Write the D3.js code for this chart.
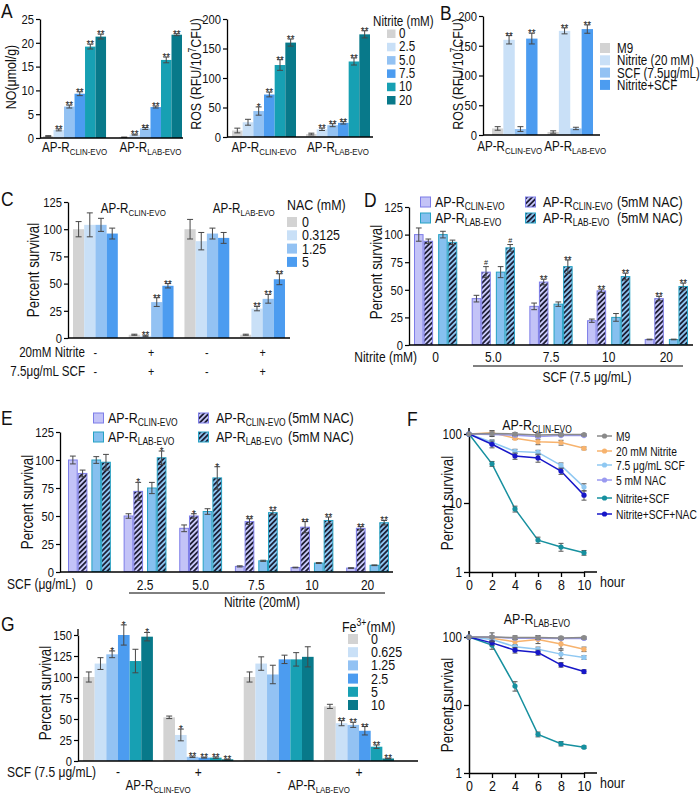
<!DOCTYPE html>
<html><head><meta charset="utf-8">
<script src="https://cdn.jsdelivr.net/npm/d3@7"></script>
<style>body{margin:0;background:#fff} svg{display:block}</style>
</head><body>
<script>
// ================= DATA =================
// Panel A
const nitriteLevels = ["0","2.5","5.0","7.5","10","20"];
const strainSubs = ["CLIN-EVO","LAB-EVO"];
const noClin = [0.4,1.7,6.6,9.3,19.2,21.3];
const noClinErr = [0.1,0.2,0.3,0.4,0.5,0.5];
const noLab = [0.15,0.7,2.0,6.5,16.4,21.7];
const noLabErr = [0.05,0.1,0.2,0.2,0.6,0.2];
const noClinSig = ["","**","**","**","**","**"];
const noLabSig = ["","**","**","**","**","**"];
const rosClin = [11,25,44,72,122,160];
const rosClinErr = [4,5,7,4,9,6];
const rosLab = [5,13,20,24,128,174];
const rosLabErr = [1.5,2,2.5,2,6,6];
const rosClinSig = ["","","*","**","**","**"];
const rosLabSig = ["","**","**","**","**","**"];
// Panel B
const bTreatments = ["M9","Nitrite (20 mM)","SCF (7.5μg/mL)","Nitrite+SCF"];
const bClin = [11,160,10,162];
const bClinErr = [3,7,4,9];
const bLab = [5,175,11,178];
const bLabErr = [2,5,2,7];
const bSig = ["","**","","**"];
// Panel C
const nacLevels = ["0","0.3125","1.25","5"];
const cClinNeg = [100,104,104,96];
const cClinNegErr = [7,11,6,5];
const cClinPos = [3,2,33,48];
const cClinPosErr = [0.5,0.5,4,2];
const cLabNeg = [100,89,96,92];
const cLabNegErr = [9,8,5,5];
const cLabPos = [3,27,36,54];
const cLabPosErr = [0.5,2,4,5];
const cPosSig = ["","**","**","**"];
const cNitriteSigns = ["-","+","-","+"];
const cScfSigns = ["-","+","-","+"];
// Panel D
const dNitrite = ["0","5.0","7.5","10","20"];
const dClin = [100,42,35,22,5];
const dClinErr = [6,3,3,1.5,0.3];
const dClinNac = [94,66,57,49,42];
const dClinNacErr = [2,5,2.5,1.5,2];
const dLab = [100,66,37,25,5];
const dLabErr = [3,5,2,3.5,0.3];
const dLabNac = [93,88,71,62,53];
const dLabNacErr = [2,3,6,3,3];
const dNacSig = ["","#","**","**","**"];
// Panel E
const eScf = ["0","2.5","5.0","7.5","10","20"];
const eClin = [100,50,39,5,4,3.5];
const eClinErr = [3.5,2,3,0.5,0.3,0.3];
const eClinNac = [88,72,50,45,40,39];
const eClinNacErr = [3,8,2,2.5,5,1.5];
const eLab = [100,75,54,10,8,6];
const eLabErr = [3,5,2.5,0.5,0.4,0.3];
const eLabNac = [98,102,84,53,46,44];
const eLabNacErr = [7,6,10,2,3,2];
const eNacSig = ["","*","*","**","**","**"];
// Panel F
const hours = [0,2,4,6,8,10];
const fSeries = ["M9","20 mM Nitrite","7.5 μg/mL SCF","5 mM NAC","Nitrite+SCF","Nitrite+SCF+NAC"];
const fClinVals = [
  [100,102,100,97,98,98],
  [100,104,87,77,75,62],
  [100,76,56,54,35,17],
  [100,98,96,92,95,95],
  [100,37,8.2,2.9,2.3,1.9],
  [100,71,48,45,29,13]
];
const fClinErrs = [
  [0,10,5,4,3,3],
  [0,6,4,7,6,3],
  [0,6,4,4,3,2],
  [0,4,3,3,2,3],
  [0,3,0.8,0.3,0.3,0.15],
  [0,8,5,6,3,2]
];
const fLabVals = [
  [100,100,98,98,97,98],
  [100,96,85,92,79,66],
  [100,92,72,66,56,50],
  [100,100,96,96,95,95],
  [100,76,19,3.7,2.7,2.4],
  [100,82,64,59,39,31]
];
const fLabErrs = [
  [0,15,6,6,5,4],
  [0,8,10,12,12,5],
  [0,6,5,5,8,3],
  [0,3,3,3,3,3],
  [0,10,3,0.3,0.2,0.1],
  [0,6,6,5,3,2]
];
// Panel G
const feLevels = ["0","0.625","1.25","2.5","5","10"];
const gClinNeg = [100,116,127,150,119,148];
const gClinNegErr = [6,7,4,12,14,5];
const gClinNegSig = ["","","*","*","","*"];
const gClinPos = [52,31,5,4,4,2];
const gClinPosErr = [1.5,7,0.8,0.5,0.8,0.3];
const gClinPosSig = ["","*","**","**","**","**"];
const gLabNeg = [100,116,103,121,121,124];
const gLabNegErr = [6,8,11,5,8,12];
const gLabPos = [65,45,43,36,17,3];
const gLabPosErr = [2.5,3,3,5,2,0.3];
const gLabPosSig = ["","**","**","**","**","**"];
const gSigns = ["-","+","-","+"];

// ================= STYLE =================
const FONT = "'Liberation Sans',Arial,sans-serif";
const S = 0.83; // horizontal condensation to mimic a narrow face
const pal6 = ["#d3d3d3","#c9e0f7","#93c2f3","#4c9cf0","#17a0b3","#08798a"];
const cLav = "#c3c3f7", cLavS = "#7d7de8", cLab = "#86c0ef", cLabS = "#26a2c4";
const fColors = ["#8a8a8a","#f7b36e","#8fc8f2","#9a9af0","#16909f","#1717c8"];

const svg = d3.select("body").append("svg").attr("width",700).attr("height",794)
  .style("font-family",FONT).attr("font-size",13).attr("fill","#111");
const defs = svg.append("defs");
function hatch(id,bg){
  const p = defs.append("pattern").attr("id",id).attr("patternUnits","userSpaceOnUse")
    .attr("width",3.6).attr("height",3.6).attr("patternTransform","rotate(45)");
  p.append("rect").attr("width",3.6).attr("height",3.6).attr("fill",bg);
  p.append("line").attr("x1",0.9).attr("y1",-1).attr("x2",0.9).attr("y2",5).attr("stroke","#16162c").attr("stroke-width",1.7);
}
hatch("hC","#c8c8f8"); hatch("hL","#8cc3ee");

function txt(x,y,s,anchor,size,sc=S){
  const t = svg.append("text").attr("transform",`translate(${x},${y}) scale(${sc},1)`).text(s);
  if(anchor) t.attr("text-anchor",anchor);
  if(size) t.attr("font-size",size);
  return t;
}
function apr(x,y,sub,anchor="middle",size=14){
  const t = svg.append("text").attr("transform",`translate(${x},${y}) scale(${S},1)`).attr("text-anchor",anchor).attr("font-size",size);
  t.append("tspan").text("AP-R");
  t.append("tspan").attr("font-size",size*0.68).attr("dy",3).text(sub);
  return t;
}
function ylab(x,y,s,size=14){
  return svg.append("text").attr("transform",`translate(${x},${y}) rotate(-90) scale(${S},1)`)
    .attr("text-anchor","middle").attr("dy","0.35em").attr("font-size",size).text(s);
}
function letter(x,y,s){ txt(x,y,s,null,21); }
function condenseTicks(g){
  g.selectAll(".tick text").each(function(){
    const t = d3.select(this); const x = +t.attr("x") || 0;
    t.attr("x", x/S).attr("transform",`scale(${S},1)`).attr("fill","#111");
  });
}

function yAxis(scale,x,ticks,ext=0){
  const g = svg.append("g").attr("transform",`translate(${x},0)`)
    .call(d3.axisLeft(scale).tickValues(ticks).tickSize(4).tickPadding(2).tickSizeOuter(0).tickFormat(d3.format("d")));
  g.attr("font-family",FONT).attr("font-size",13.5);
  g.select(".domain").attr("stroke","#000").attr("stroke-width",1.3);
  g.selectAll(".tick line").attr("stroke","#000").attr("stroke-width",1.2);
  condenseTicks(g);
  if(ext){ const r = scale.range(); g.append("line").attr("x1",0).attr("x2",0).attr("y1",r[1]).attr("y2",r[1]-ext).attr("stroke","#000").attr("stroke-width",1.3); }
  return g;
}
function xLine(x1,x2,y,w=1.3){
  svg.append("line").attr("x1",x1).attr("x2",x2).attr("y1",y).attr("y2",y).attr("stroke","#000").attr("stroke-width",w);
}

function bars(o){
  const gx = d3.scaleBand().domain(d3.range(o.nG)).range(o.range).paddingInner(o.padG).paddingOuter(0);
  let pos;
  if(o.pairPad != null){
    const px = d3.scaleBand().domain([0,1]).range([0,gx.bandwidth()]).paddingInner(o.pairPad);
    const sx = d3.scaleBand().domain([0,1]).range([0,px.bandwidth()]);
    pos = (g,s)=>[gx(g)+px(Math.floor(s/2))+sx(s%2), sx.bandwidth()];
  } else {
    const sx = d3.scaleBand().domain(d3.range(o.nS)).range([0,gx.bandwidth()]);
    pos = (g,s)=>[gx(g)+sx(s), sx.bandwidth()];
  }
  const items = [];
  for(let g=0; g<o.nG; g++) for(let s=0; s<o.nS; s++)
    items.push({g,s,v:o.val(g,s),e:o.err(g,s),sig:o.sig?o.sig(g,s):""});
  const y = o.y, layer = svg.append("g");
  const sw = o.stroke ? 1 : 0;
  layer.selectAll("rect").data(items).join("rect")
    .attr("x",d=>pos(d.g,d.s)[0]+sw/2).attr("width",d=>pos(d.g,d.s)[1]-sw)
    .attr("y",d=>y(d.v)).attr("height",d=>Math.max(0,y(0)-y(d.v)-sw/2))
    .attr("fill",d=>o.fill(d.s)).attr("stroke",d=>o.stroke?o.stroke(d.s):"none").attr("stroke-width",sw);
  const eb = layer.append("g").attr("stroke","#474747").attr("stroke-width",1);
  items.forEach(d=>{
    const [bx,bw] = pos(d.g,d.s), cx = bx+bw/2, cw = Math.min(3, bw*0.3);
    const y1 = y(Math.max(0,d.v-d.e)), y2 = y(d.v+d.e);
    eb.append("line").attr("x1",cx).attr("x2",cx).attr("y1",y1).attr("y2",y2);
    eb.append("line").attr("x1",cx-cw).attr("x2",cx+cw).attr("y1",y2).attr("y2",y2);
    eb.append("line").attr("x1",cx-cw).attr("x2",cx+cw).attr("y1",y1).attr("y2",y1);
    if(d.sig){
      const isHash = d.sig.indexOf("#")>=0;
      layer.append("text").attr("transform",`translate(${cx},${isHash ? y2-1.5 : y2+4}) scale(0.9,1)`)
        .attr("text-anchor","middle").attr("font-size",isHash?8:11).attr("fill","#222").text(d.sig);
    }
  });
  const center = g => gx(g)+gx.bandwidth()/2;
  return {gx, center};
}

// ================= PANEL A (NO) =================
letter(1,18,"A");
{
  const y = d3.scaleLinear().domain([0,25]).range([138,19]);
  const vals=[noClin,noLab], errs=[noClinErr,noLabErr], sigs=[noClinSig,noLabSig];
  const b = bars({nG:2,nS:6,range:[43,182],padG:0.17,y,
    val:(g,s)=>vals[g][s],err:(g,s)=>errs[g][s],sig:(g,s)=>sigs[g][s],fill:s=>pal6[s]});
  yAxis(y,40,[0,5,10,15,20,25]);
  xLine(40,183,138);
  ylab(11,77,"NO(μmol/g)",15);
  strainSubs.forEach((s,i)=>apr(b.center(i),152,s));
}
// ================= PANEL A (ROS) =================
{
  const y = d3.scaleLinear().domain([0,200]).range([137,19]);
  const vals=[rosClin,rosLab], errs=[rosClinErr,rosLabErr], sigs=[rosClinSig,rosLabSig];
  const b = bars({nG:2,nS:6,range:[232,370],padG:0.135,y,
    val:(g,s)=>vals[g][s],err:(g,s)=>errs[g][s],sig:(g,s)=>sigs[g][s],fill:s=>pal6[s]});
  yAxis(y,227,[0,50,100,150,200]);
  xLine(227,373,137);
  const t = svg.append("text").attr("transform",`translate(196,74) rotate(-90) scale(${S},1)`).attr("text-anchor","middle").attr("dy","0.35em").attr("font-size",15);
  t.append("tspan").text("ROS (RFU/10");
  t.append("tspan").attr("font-size",10).attr("dy",-5).text("7");
  t.append("tspan").attr("dy",5).text("CFU)");
  strainSubs.forEach((s,i)=>apr(b.center(i),152,s));
  // legend
  txt(373,26,"Nitrite (mM)",null,14);
  nitriteLevels.forEach((l,i)=>{
    const by = 38+i*13.3;
    svg.append("rect").attr("x",387).attr("y",by-8.5).attr("width",8.5).attr("height",8.5).attr("fill",pal6[i]);
    txt(399,by,l,null,14);
  });
}
// ================= PANEL B =================
letter(440,20,"B");
{
  const y = d3.scaleLinear().domain([0,200]).range([135,16]);
  const vals=[bClin,bLab], errs=[bClinErr,bLabErr];
  const b = bars({nG:2,nS:4,range:[492,593],padG:0.18,y,
    val:(g,s)=>vals[g][s],err:(g,s)=>errs[g][s],sig:(g,s)=>bSig[s],fill:s=>pal6[s]});
  yAxis(y,483,[0,50,100,150,200]);
  xLine(483,600,135);
  const t = svg.append("text").attr("transform",`translate(458,74) rotate(-90) scale(${S},1)`).attr("text-anchor","middle").attr("dy","0.35em").attr("font-size",15);
  t.append("tspan").text("ROS (RFU/10");
  t.append("tspan").attr("font-size",10).attr("dy",-5).text("7");
  t.append("tspan").attr("dy",5).text("CFU)");
  apr(b.center(0)-5,151,strainSubs[0]);
  apr(b.center(1)+5,151,strainSubs[1]);
  bTreatments.forEach((l,i)=>{
    const by = 53+i*12.3;
    svg.append("rect").attr("x",600).attr("y",by-10).attr("width",10).attr("height",10).attr("fill",pal6[i]);
    txt(617,by,l,null,14);
  });
}
// ================= PANEL C =================
letter(1,206,"C");
{
  const y = d3.scaleLinear().domain([0,125]).range([338,202]);
  const vals=[cClinNeg,cClinPos,cLabNeg,cLabPos], errs=[cClinNegErr,cClinPosErr,cLabNegErr,cLabPosErr];
  const b = bars({nG:4,nS:4,range:[73,285],padG:0.196,y,
    val:(g,s)=>vals[g][s],err:(g,s)=>errs[g][s],sig:(g,s)=>(g%2===1?cPosSig[s]:""),fill:s=>pal6[s]});
  yAxis(y,68,[0,25,50,75,100,125]);
  xLine(68,290,338);
  ylab(33,270,"Percent survival",16);
  apr((b.center(0)+b.center(1))/2+10,213,strainSubs[0]);
  apr((b.center(2)+b.center(3))/2+9,213,strainSubs[1]);
  txt(85,357,"20mM Nitrite","end",14);
  txt(85,376,"7.5μg/mL SCF","end",14);
  cNitriteSigns.forEach((s,i)=>txt(b.center(i),357,s,"middle",13));
  cScfSigns.forEach((s,i)=>txt(b.center(i),376,s,"middle",13));
  txt(287,210,"NAC (mM)",null,15);
  nacLevels.forEach((l,i)=>{
    const by = 227+i*13.3;
    svg.append("rect").attr("x",287).attr("y",by-10).attr("width",10).attr("height",10).attr("fill",pal6[i]);
    txt(302,by,l,null,15);
  });
}
// legend for D/E
function nacLegend(c1,c2,xNac,r1,r2){
  const fills=[[cLav,cLavS],[cLab,cLabS],["url(#hC)",cLavS],["url(#hL)",cLabS]];
  const spots=[[c1,r1],[c1,r2],[c2,r1],[c2,r2]];
  const subs=[strainSubs[0],strainSubs[1],strainSubs[0],strainSubs[1]];
  spots.forEach((p,i)=>{
    svg.append("rect").attr("x",p[0]+0.5).attr("y",p[1]-10).attr("width",10).attr("height",10)
      .attr("fill",fills[i][0]).attr("stroke",fills[i][1]).attr("stroke-width",1);
    apr(p[0]+(i<2?15:18),p[1],subs[i],"start",15);
  });
  txt(xNac,r1,"(5mM NAC)",null,15);
  txt(xNac,r2,"(5mM NAC)",null,15);
}
const nacFills = ["#c3c3f7","url(#hC)","#86c0ef","url(#hL)"];
const nacStrokes = [cLavS,cLavS,cLabS,cLabS];
// ================= PANEL D =================
letter(364,207,"D");
{
  const y = d3.scaleLinear().domain([0,125]).range([345,207]);
  const ser=[dClin,dClinNac,dLab,dLabNac], err=[dClinErr,dClinNacErr,dLabErr,dLabNacErr];
  const b = bars({nG:5,nS:4,range:[414,688],padG:0.25,pairPad:0.21,y,
    val:(g,s)=>ser[s][g],err:(g,s)=>err[s][g],sig:(g,s)=>(s%2===1?dNacSig[g]:""),
    fill:s=>nacFills[s],stroke:s=>nacStrokes[s]});
  yAxis(y,409,[0,25,50,75,100,125]);
  xLine(409,693,345);
  ylab(376,272,"Percent survival",16);
  nacLegend(420,525,617,207,223);
  txt(417,362,"Nitrite (mM)","end",14.5);
  dNitrite.forEach((l,i)=>txt(b.center(i),362,l,"middle",14.5));
  xLine(473,683,366,1);
  txt(587,382,"SCF (7.5 μg/mL)","middle",14.5);
}
// ================= PANEL E =================
letter(1,425,"E");
{
  const y = d3.scaleLinear().domain([0,125]).range([572,432]);
  const ser=[eClin,eClinNac,eLab,eLabNac], err=[eClinErr,eClinNacErr,eLabErr,eLabNacErr];
  const b = bars({nG:6,nS:4,range:[68,389],padG:0.23,pairPad:0.17,y,
    val:(g,s)=>ser[s][g],err:(g,s)=>err[s][g],sig:(g,s)=>(s%2===1?eNacSig[g]:""),
    fill:s=>nacFills[s],stroke:s=>nacStrokes[s]});
  yAxis(y,60,[0,25,50,75,100,125]);
  xLine(60,393,572);
  ylab(27,502,"Percent survival",16);
  nacLegend(93,198,288,423,442);
  txt(7,589,"SCF (μg/mL)",null,14.5);
  eScf.forEach((l,i)=>txt(b.center(i),590,l,"middle",14.5));
  xLine(129,385,593,1);
  txt(262,607,"Nitrite (20mM)","middle",14.5);
}
// ================= PANEL G =================
letter(1,631,"G");
{
  const y = d3.scaleLinear().domain([0,150]).range([761,635]);
  const vals=[gClinNeg,gClinPos,gLabNeg,gLabPos], errs=[gClinNegErr,gClinPosErr,gLabNegErr,gLabPosErr];
  const sigs=[gClinNegSig,gClinPosSig,null,gLabPosSig];
  const b = bars({nG:4,nS:6,range:[83,394],padG:0.13,y,
    val:(g,s)=>vals[g][s],err:(g,s)=>errs[g][s],sig:(g,s)=>sigs[g]?sigs[g][s]:"",fill:s=>pal6[s]});
  yAxis(y,78,[0,25,50,75,100,125,150],6);
  xLine(78,418,761);
  ylab(45,693,"Percent survival",16);
  txt(7,777,"SCF (7.5 μg/mL)",null,14.5);
  gSigns.forEach((s,i)=>txt(b.center(i),777,s,"middle",14.5));
  apr((b.center(0)+b.center(1))/2,790,strainSubs[0]);
  apr((b.center(2)+b.center(3))/2,790,strainSubs[1]);
  const t = svg.append("text").attr("transform",`translate(342,632) scale(${S},1)`).attr("font-size",15);
  t.append("tspan").text("Fe");
  t.append("tspan").attr("font-size",10.5).attr("dy",-6).text("3+");
  t.append("tspan").attr("dy",6).text("(mM)");
  feLevels.forEach((l,i)=>{
    const by = 644+i*13.2;
    svg.append("rect").attr("x",348).attr("y",by-10).attr("width",10).attr("height",10).attr("fill",pal6[i]);
    txt(371,by,l,null,15);
  });
}
// ================= PANEL F =================
letter(407,426,"F");
function survival(y100,y1,sub,titleY,vals,errs){
  const x = d3.scaleLinear().domain([0,10]).range([469,584]);
  const y = d3.scaleLog().domain([1,100]).range([y1,y100]);
  const ga = svg.append("g").attr("transform","translate(469,0)")
    .call(d3.axisLeft(y).tickValues([1,10,100]).tickFormat(d3.format("d")).tickSize(5).tickPadding(2).tickSizeOuter(0));
  ga.attr("font-family",FONT).attr("font-size",14);
  ga.select(".domain").attr("stroke","#000").attr("stroke-width",1.5);
  ga.selectAll(".tick line").attr("stroke","#000").attr("stroke-width",1.3);
  condenseTicks(ga);
  svg.append("line").attr("x1",469).attr("x2",469).attr("y1",y(100)).attr("y2",y(100)-6).attr("stroke","#000").attr("stroke-width",1.5);
  const gb = svg.append("g").attr("transform",`translate(0,${y1})`)
    .call(d3.axisBottom(x).tickValues(hours).tickFormat(d3.format("d")).tickSize(5).tickPadding(2).tickSizeOuter(0));
  gb.attr("font-family",FONT).attr("font-size",15);
  gb.select(".domain").attr("stroke","#000").attr("stroke-width",1.5);
  gb.selectAll(".tick line").attr("stroke","#000").attr("stroke-width",1.3);
  condenseTicks(gb);
  xLine(584,597,y1,1.5);
  txt(600,y1+15,"hour",null,15);
  ylab(447,(y1+y100)/2,"Percent survival",16);
  apr(537,titleY,sub,"middle",15);
  const order=[1,2,3,4,5,0];
  const line = d3.line().x((d,i)=>x(hours[i])).y(d=>y(d));
  order.forEach(si=>{
    const g = svg.append("g");
    g.append("path").datum(vals[si]).attr("d",line).attr("fill","none").attr("stroke",fColors[si]).attr("stroke-width",1.5);
    vals[si].forEach((v,i)=>{
      const e = errs[si][i], cx = x(hours[i]);
      if(e>0){
        const ya = y(Math.max(1,v-e)), yb = y(v+e);
        g.append("line").attr("x1",cx).attr("x2",cx).attr("y1",ya).attr("y2",yb).attr("stroke","#555").attr("stroke-width",1);
        [ya,yb].forEach(yy=>g.append("line").attr("x1",cx-2.5).attr("x2",cx+2.5).attr("y1",yy).attr("y2",yy).attr("stroke","#555").attr("stroke-width",1));
      }
      g.append("circle").attr("cx",cx).attr("cy",y(v)).attr("r",2.6).attr("fill",fColors[si]);
    });
  });
}
survival(434,572,strainSubs[0],430,fClinVals,fClinErrs);
survival(637,773,strainSubs[1],624,fLabVals,fLabErrs);
// F legend
{
  const centers=[436,451,465,480,498,514];
  fSeries.forEach((s,i)=>{
    svg.append("line").attr("x1",597).attr("x2",612).attr("y1",centers[i]).attr("y2",centers[i]).attr("stroke",fColors[i]).attr("stroke-width",1.5);
    svg.append("circle").attr("cx",604.5).attr("cy",centers[i]).attr("r",2.6).attr("fill",fColors[i]);
    txt(616,centers[i]+4.5,s,null,13.5,0.76);
  });
}
</script>
</body></html>
